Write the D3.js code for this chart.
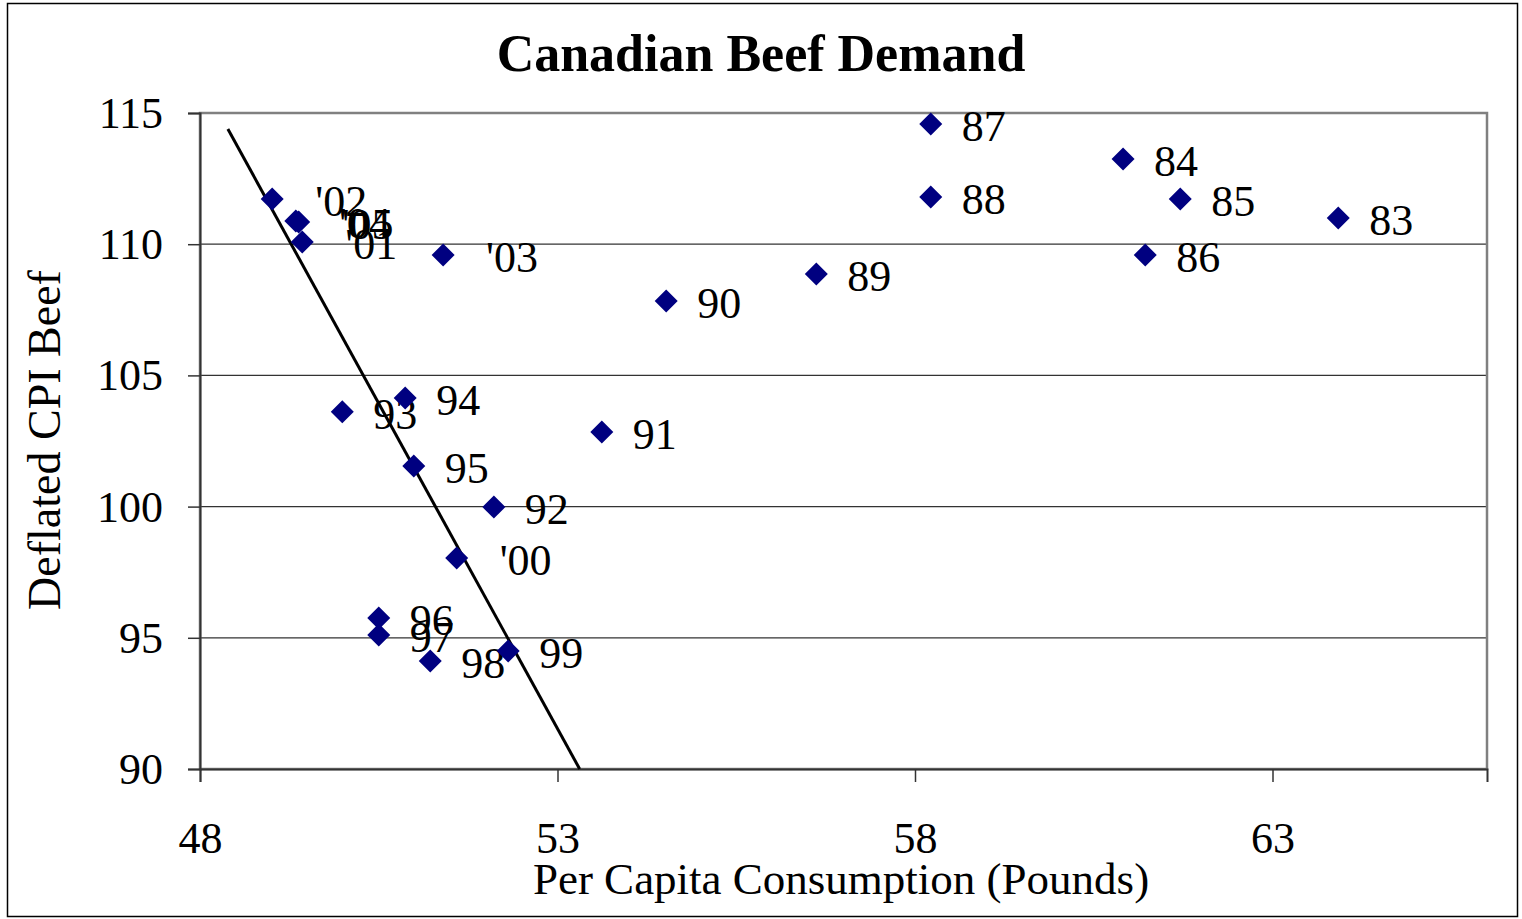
<!DOCTYPE html>
<html>
<head>
<meta charset="utf-8">
<script src="https://cdn.jsdelivr.net/npm/d3@7"></script>
<style>
  body { margin: 0; background: #fff; }
  text { font-family: "Liberation Serif", "Times New Roman", serif; }
</style>
</head>
<body>
<div id="vis"></div>
<script>
// year labels, consumption (lbs per capita), deflated CPI beef
var years = ["83", "84", "85", "86", "87", "88", "89", "90", "91", "92", "93", "94",
             "95", "96", "97", "98", "99", "'00", "'01", "'02", "'03", "'04", "'05"];
var consumption = [63.92, 60.91, 61.71, 61.22, 58.22, 58.22, 56.62, 54.52, 53.62, 52.11, 49.99, 50.87,
                   50.99, 50.50, 50.50, 51.22, 52.31, 51.59, 49.43, 49.01, 51.40, 49.34, 49.38];
var cpiBeef = [111.00, 113.25, 111.72, 109.59, 114.58, 111.80, 108.86, 107.84, 102.84, 99.98, 103.61, 104.14,
               101.55, 95.75, 95.11, 94.12, 94.50, 98.04, 110.08, 111.72, 109.59, 110.88, 110.85];

// trend line end points
var trendX = [48.39, 53.31];
var trendY = [114.39, 90];

var xTicks = [48, 53, 58, 63];
var yTicks = [90, 95, 100, 105, 110, 115];

var width = 1522,
    height = 919;

var svg = d3.select("#vis").append("svg")
    .attr("width", width)
    .attr("height", height);

// outer chart border
svg.append("rect")
    .attr("x", 7.5).attr("y", 3.5)
    .attr("width", 1510).attr("height", 913)
    .attr("fill", "none")
    .attr("stroke", "#000")
    .attr("stroke-width", 1.5);

var x = d3.scaleLinear().domain([48, 66]).range([200, 1487]);
var y = d3.scaleLinear().domain([90, 115]).range([769, 113]);

// gridlines
svg.append("g")
    .selectAll("line")
    .data(yTicks.filter(function (d) { return d > 90 && d < 115; }))
    .enter().append("line")
    .attr("x1", x(48)).attr("x2", x(66))
    .attr("y1", function (d) { return y(d); })
    .attr("y2", function (d) { return y(d); })
    .attr("stroke", "#333")
    .attr("stroke-width", 1.3);

// plot frame
svg.append("rect")
    .attr("x", x(48)).attr("y", y(115))
    .attr("width", x(66) - x(48)).attr("height", y(90) - y(115))
    .attr("fill", "none")
    .attr("stroke", "#808080")
    .attr("stroke-width", 2.5);

// axes
var yAxis = svg.append("g")
    .attr("transform", "translate(" + x(48) + ",0)")
    .call(d3.axisLeft(y).tickValues(yTicks).tickSize(12).tickPadding(25));

var xAxis = svg.append("g")
    .attr("transform", "translate(0," + y(90) + ")")
    .call(d3.axisBottom(x).tickValues(xTicks).tickSize(13).tickPadding(38));

[yAxis, xAxis].forEach(function (a) {
  a.select(".domain").attr("stroke", "#333").attr("stroke-width", 2);
  a.selectAll(".tick line").attr("stroke", "#333").attr("stroke-width", 1.5);
  a.selectAll(".tick text")
      .style("font-family", "Liberation Serif, Times New Roman, serif")
      .style("font-size", "44px")
      .attr("fill", "#000");
});
yAxis.selectAll(".tick text").attr("dy", "0.33em");
xAxis.selectAll(".tick text").attr("dy", "0.75em");

// trend line
svg.append("line")
    .attr("x1", x(trendX[0])).attr("y1", y(trendY[0]))
    .attr("x2", x(trendX[1])).attr("y2", y(trendY[1]))
    .attr("stroke", "#000")
    .attr("stroke-width", 3);

var points = years.map(function (d, i) {
  return { year: d, cons: consumption[i], cpi: cpiBeef[i] };
});

var node = svg.selectAll(".node")
    .data(points)
    .enter().append("g")
    .attr("class", "node")
    .attr("transform", function (d) { return "translate(" + x(d.cons) + "," + y(d.cpi) + ")"; });

node.append("path")
    .attr("d", "M0,-11.5L11.5,0L0,11.5L-11.5,0Z")
    .attr("fill", "#000080");

node.append("text")
    .attr("x", function (d) { return d.year.charAt(0) === "'" ? 43 : 31; })
    .attr("y", 17)
    .style("font-size", "44px")
    .text(function (d) { return d.year; });

// titles
svg.append("text")
    .attr("x", 761).attr("y", 71)
    .attr("text-anchor", "middle")
    .style("font-size", "52px")
    .style("font-weight", "bold")
    .text("Canadian Beef Demand");

svg.append("text")
    .attr("x", 841).attr("y", 894)
    .attr("text-anchor", "middle")
    .style("font-size", "45px")
    .text("Per Capita Consumption (Pounds)");

svg.append("text")
    .attr("transform", "translate(60,440) rotate(-90)")
    .attr("text-anchor", "middle")
    .style("font-size", "46px")
    .text("Deflated CPI Beef");
</script>
</body>
</html>
